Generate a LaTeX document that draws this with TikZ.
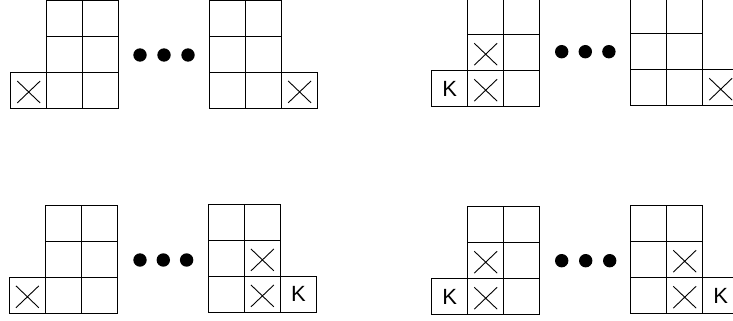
\documentclass[tikz,border=0pt]{standalone}
\usepackage{fontspec}
\setmainfont{Liberation Sans}
\usetikzlibrary{shapes.misc}
\newcommand\LShape[3]{%
  \node[cell] (#1-00) at (#2+18,#3-18) {};
  \foreach \r in {0,1,2}{
    \node[cell] (#1-1\r) at (#2+54,#3-18-36*\r) {};
    \node[cell] (#1-2\r) at (#2+90,#3-18-36*\r) {};
  }}
\newcommand\RShape[3]{%
  \foreach \r in {0,1,2}{
    \node[cell] (#1-0\r) at (#2+18,#3-18-36*\r) {};
    \node[cell] (#1-1\r) at (#2+54,#3-18-36*\r) {};
  }
  \node[cell] (#1-20) at (#2+90,#3-18) {};}
\newcommand\XMark[1]{\node[xmark] (#1-x) at ([yshift=-1.5pt]#1.center) {};}
\newcommand\KMark[1]{\node[kmark] (#1-k) at (#1.center) {\fontsize{22}{22}\selectfont K};}
\newcommand\Dots[4]{%
  \node[dotc] (#1-d1) at (#2,#4) {};
  \node[dotc] (#1-d2) at (#3,#4) {};
  \node[dotc] (#1-d3) at ({2*#3-#2},#4) {};}
\begin{document}
\begin{tikzpicture}[x=1pt,y=-1pt,
  cell/.style={draw=black,line width=1.2pt,minimum size=36pt,inner sep=0pt,outer sep=0pt},
  xmark/.style={cross out,draw=black,line width=0.9pt,minimum width=22pt,minimum height=21pt,inner sep=0pt},
  kmark/.style={inner sep=0pt},
  dotc/.style={circle,fill=black,minimum size=13.4pt,inner sep=0pt}]
\useasboundingbox (0,0) rectangle (733,321);
% top left panel
\LShape{a}{10.7}{108.5}
\RShape{b}{209.6}{108.4}
\XMark{a-00}
\XMark{b-20}
\Dots{t1}{140}{164}{55}
% top right panel
\LShape{c}{431.7}{106.7}
\RShape{d}{630.7}{105.7}
\KMark{c-00}
\XMark{c-10}
\XMark{c-11}
\XMark{d-20}
\Dots{t2}{561.7}{585.3}{51.7}
% bottom left panel
\LShape{e}{9.4}{313.3}
\RShape{f}{208.4}{312.4}
\XMark{e-00}
\XMark{f-10}
\XMark{f-11}
\KMark{f-20}
\Dots{b1}{140}{163.3}{260}
% bottom right panel
\LShape{g}{431.7}{314.7}
\RShape{h}{630.7}{313.7}
\KMark{g-00}
\XMark{g-10}
\XMark{g-11}
\XMark{h-10}
\XMark{h-11}
\KMark{h-20}
\Dots{b2}{561.7}{585.7}{260.7}
\end{tikzpicture}
\end{document}
